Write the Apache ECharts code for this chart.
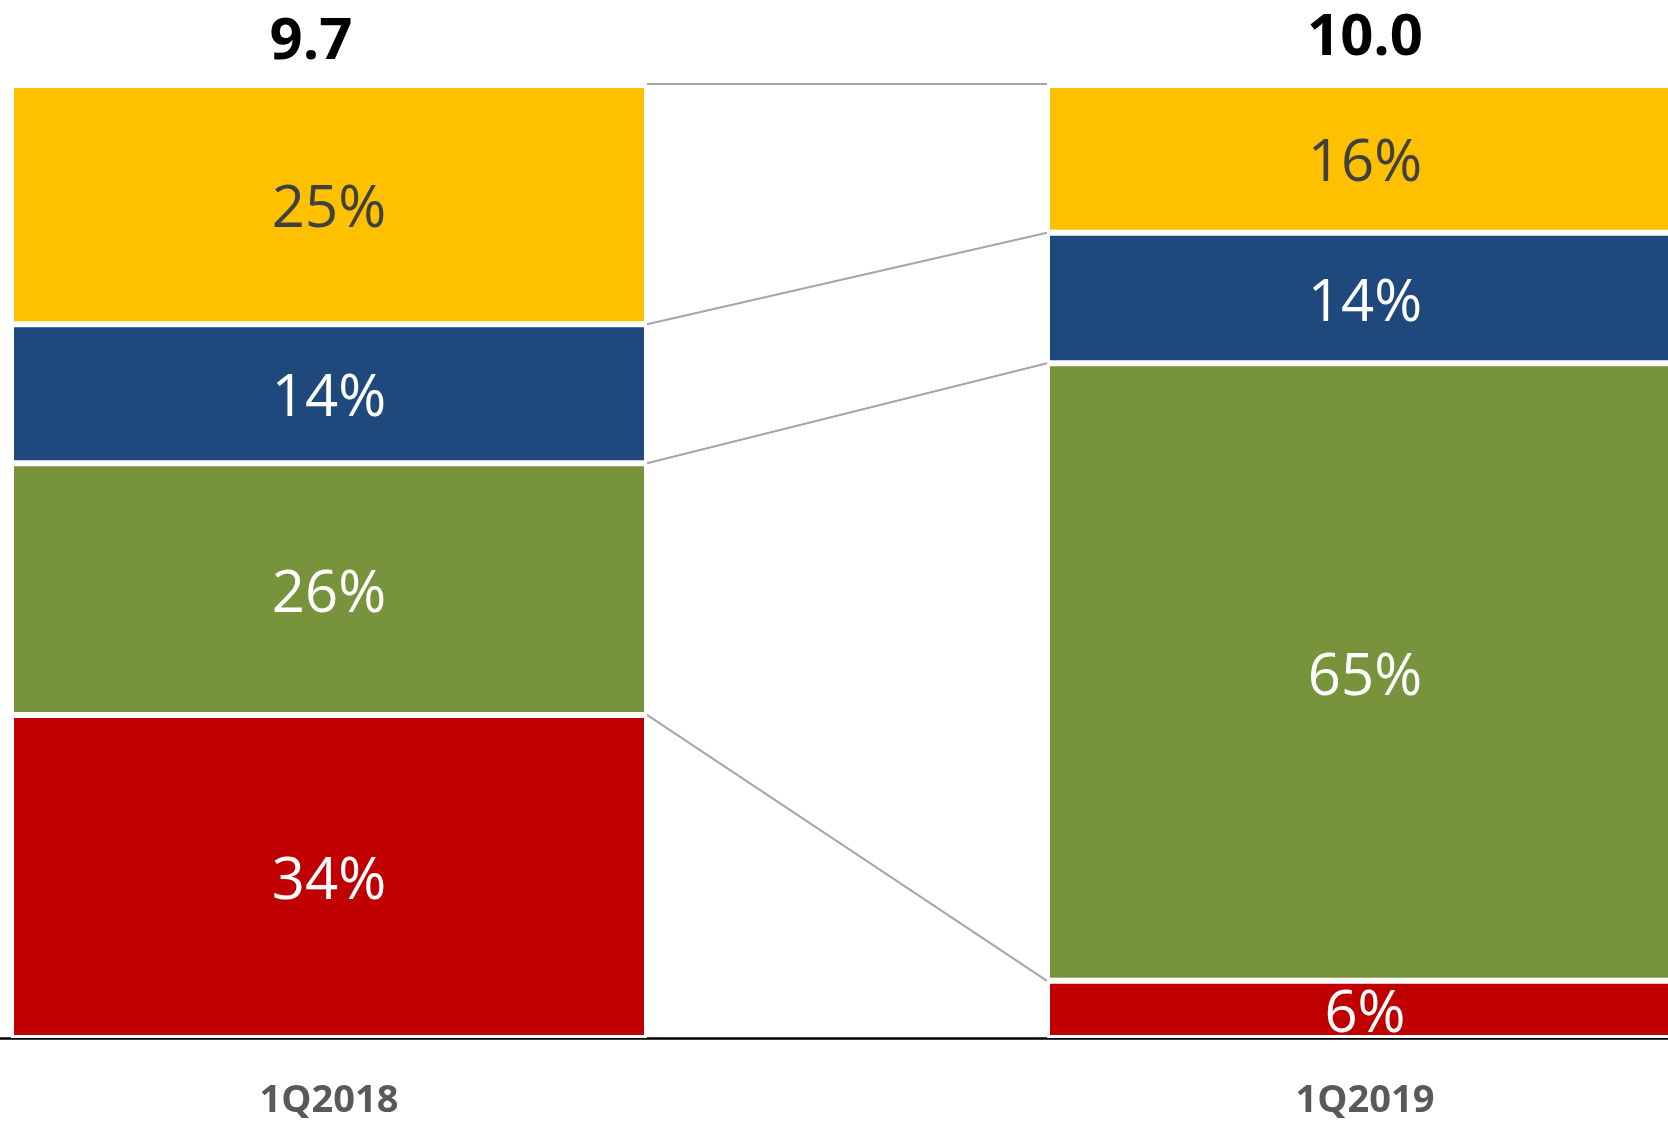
<!DOCTYPE html>
<html>
<head>
<meta charset="utf-8">
<script src="https://cdn.jsdelivr.net/npm/echarts@6/dist/echarts.min.js"></script>
<style>
html,body{margin:0;padding:0;background:#fff;}
#chart{width:1668px;height:1125px;}
</style>
</head>
<body>
<div id="chart"></div>
<script>
// ---- data ----
var categories = ['1Q2018', '1Q2019'];
var totals = ['9.7', '10.0'];
var redShare = [33.9, 6.0];
var greenShare = [26.4, 64.8];
var blueShare = [14.6, 13.7];
var yellowShare = [25.1, 15.5];
var redLabels = ['34%', '6%'];
var greenLabels = ['26%', '65%'];
var blueLabels = ['14%', '14%'];
var yellowLabels = ['25%', '16%'];

// ---- build ----
var stackSeries = [
  {name: 'red', data: redShare, labels: redLabels, color: '#C00000', text: '#FFFFFF'},
  {name: 'green', data: greenShare, labels: greenLabels, color: '#77933C', text: '#FFFFFF'},
  {name: 'blue', data: blueShare, labels: blueLabels, color: '#1F497D', text: '#FFFFFF'},
  {name: 'yellow', data: yellowShare, labels: yellowLabels, color: '#FFC000', text: '#404040'}
];

var BAR_W = 636;
var catIndex = categories.map(function (c, i) { return i; });

// cumulative boundaries for connectors
var boundaries = [];
var cumL = 0, cumR = 0;
for (var i = 0; i < stackSeries.length; i++) {
  cumL += stackSeries[i].data[0];
  cumR += stackSeries[i].data[1];
  boundaries.push([0, cumL, cumR]);
}

var series = stackSeries.map(function (s) {
  return {
    name: s.name,
    type: 'bar',
    stack: 'total',
    barWidth: BAR_W,
    dimensions: ['share', 'cat'],
    encode: {x: 'cat', y: 'share'},
    data: s.data.map(function (v, i) { return [v, catIndex[i]]; }),
    itemStyle: {color: s.color, borderColor: '#FFFFFF', borderWidth: 3},
    label: {
      show: true,
      position: 'inside',
      offset: [0, 6],
      color: s.text,
      fontFamily: 'Open Sans',
      fontSize: 58,
      formatter: function (p) { return s.labels[p.dataIndex]; }
    },
    emphasis: {disabled: true},
    z: 2
  };
});

series.push({
  name: 'totals',
  type: 'bar',
  stack: 'total',
  barWidth: BAR_W,
  dimensions: ['share', 'cat'],
  encode: {x: 'cat', y: 'share'},
  data: totals.map(function (t, i) {
    var item = {value: [0, catIndex[i]]};
    if (i === 0) item.label = {offset: [-18, 4]};
    return item;
  }),
  itemStyle: {color: 'transparent', borderWidth: 0},
  label: {
    show: true,
    position: 'top',
    distance: 18,
    color: '#000000',
    fontFamily: 'Open Sans',
    fontWeight: 'bold',
    fontSize: 58,
    formatter: function (p) { return totals[p.dataIndex]; }
  },
  emphasis: {disabled: true},
  z: 3
});

series.push({
  name: 'connectors',
  type: 'custom',
  coordinateSystem: 'cartesian2d',
  encode: {x: 0, y: 1},
  data: boundaries,
  renderItem: function (params, api) {
    var pL = api.coord([catIndex[0], api.value(1)]);
    var pR = api.coord([catIndex[1], api.value(2)]);
    var y1 = pL[1], y2 = pR[1];
    if (params.dataIndex === boundaries.length - 1) { y1 -= 1; y2 -= 1; }
    return {
      type: 'line',
      shape: {x1: pL[0] + BAR_W / 2, y1: y1, x2: pR[0] - BAR_W / 2, y2: y2},
      style: {stroke: '#A6A6A6', lineWidth: 2}
    };
  },
  silent: true,
  z: 1
});

var chart = echarts.init(document.getElementById('chart'), null, {renderer: 'canvas'});
chart.setOption({
  animation: false,
  backgroundColor: '#FFFFFF',
  grid: {left: 0, right: 0, top: 85, bottom: 87, containLabel: false},
  xAxis: {
    type: 'value',
    min: -0.31757,
    max: 1.29247,
    splitLine: {show: false},
    axisLine: {show: true, onZero: false, lineStyle: {color: '#000000', width: 2.5}},
    axisTick: {show: false},
    axisLabel: {
      customValues: catIndex,
      margin: 44,
      color: '#595959',
      fontFamily: 'Open Sans',
      fontWeight: 'bold',
      fontSize: 38,
      formatter: function (v) { return categories[Math.round(v)] || ''; }
    }
  },
  yAxis: {
    type: 'value',
    min: 0,
    max: 100,
    show: false,
    splitLine: {show: false}
  },
  series: series
});
</script>
</body>
</html>
